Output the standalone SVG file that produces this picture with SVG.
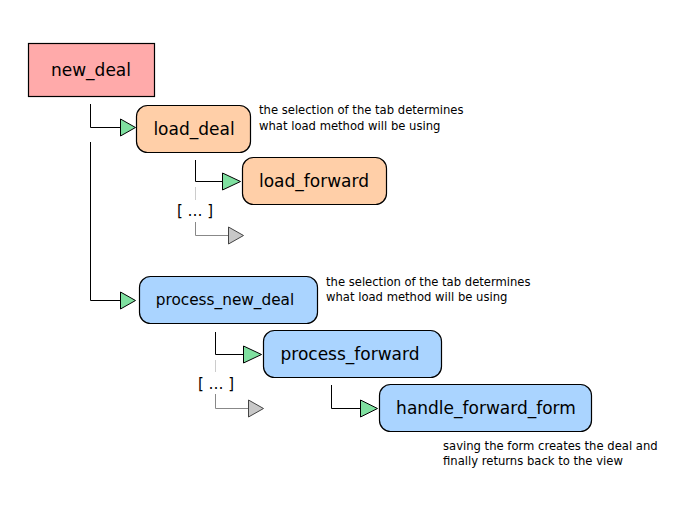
<svg xmlns="http://www.w3.org/2000/svg" width="700" height="505" viewBox="0 0 700 505">
<style>
.n{stroke:#000;stroke-width:1.2}
.red{fill:#ffaaaa}
.org{fill:#ffcfa8}
.blu{fill:#aad4ff}
.t{font-family:"DejaVu Sans",sans-serif;font-size:17px;fill:#000;text-anchor:middle}
.a{font-family:"DejaVu Sans",sans-serif;font-size:11.6px;fill:#000}
.e{fill:none;stroke:#000;stroke-width:1}
.g{fill:none;stroke:#888;stroke-width:1}
.gl{fill:none;stroke:#ccc;stroke-width:1}
.ah{fill:#7fe0a0;stroke:#000;stroke-width:1}
.ag{fill:#c8c8c8;stroke:#444;stroke-width:1}
.b{font-family:"DejaVu Sans",sans-serif;font-size:15px;fill:#000;text-anchor:middle}
</style>
<g id="connectors">
<path class="e" d="M90.5 104 V127.5 H121"/>
<polygon class="ah" points="120.5,119 135.5,127.5 120.5,136"/>
<path class="e" d="M90.5 142 V300.5 H121"/>
<polygon class="ah" points="120.5,292 135.5,300.5 120.5,309"/>
<path class="e" d="M195.5 160 V181.5 H223"/>
<polygon class="ah" points="222.5,173 240.5,181.5 222.5,190"/>
<path class="gl" d="M195.5 187 V200"/>
<path class="g" d="M195.5 222 V235.5 H229"/>
<polygon class="ag" points="228.5,227 243.5,235.5 228.5,244"/>
<path class="e" d="M215.5 332 V354.5 H244"/>
<polygon class="ah" points="243.5,346 261.5,354.5 243.5,363"/>
<path class="gl" d="M215.5 360 V372"/>
<path class="g" d="M215.5 394 V408.5 H249"/>
<polygon class="ag" points="248.5,400 263.5,408.5 248.5,417"/>
<path class="e" d="M331.5 385 V408.5 H361"/>
<polygon class="ah" points="360.5,400 377.5,408.5 360.5,417"/>
<text class="b" x="195" y="216">[ … ]</text>
<text class="b" x="216" y="389">[ … ]</text>
</g>
<g id="new_deal">
<rect class="n red" x="28.5" y="43.5" width="126" height="53"/>
<text class="t" x="91" y="76">new_deal</text>
</g>
<g id="load_deal">
<rect class="n org" x="136.5" y="105.5" width="114" height="47" rx="11"/>
<text class="t" x="194" y="135">load_deal</text>
<text class="a" x="259" y="114">the selection of the tab determines</text>
<text class="a" x="259" y="130">what load method will be using</text>
</g>
<g id="load_forward">
<rect class="n org" x="242.5" y="157.5" width="144" height="47" rx="11"/>
<text class="t" x="314" y="187">load_forward</text>
</g>
<g id="process_new_deal">
<rect class="n blu" x="139.5" y="276.5" width="178" height="47" rx="11"/>
<text class="t" x="225" y="305" style="font-size:15.3px">process_new_deal</text>
<text class="a" x="326" y="286">the selection of the tab determines</text>
<text class="a" x="326" y="301">what load method will be using</text>
</g>
<g id="process_forward">
<rect class="n blu" x="263.5" y="330.5" width="178" height="47" rx="11"/>
<text class="t" x="350" y="360">process_forward</text>
</g>
<g id="handle_forward_form">
<rect class="n blu" x="379.5" y="384.5" width="212" height="47" rx="11"/>
<text class="t" x="486" y="414">handle_forward_form</text>
<text class="a" x="443" y="450">saving the form creates the deal and</text>
<text class="a" x="443" y="465">finally returns back to the view</text>
</g>
</svg>
